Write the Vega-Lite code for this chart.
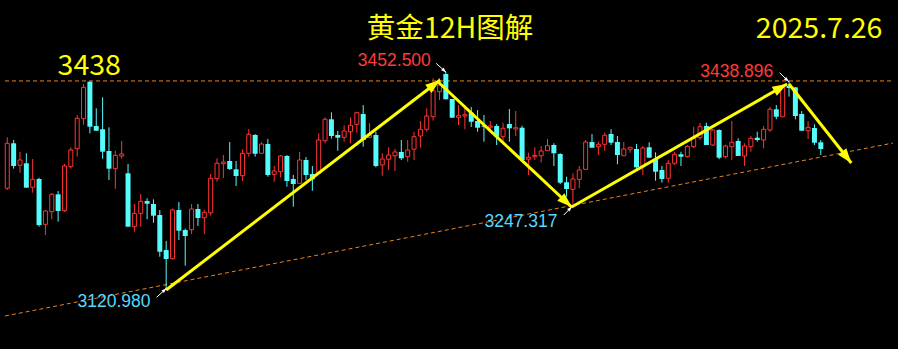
{
  "$schema": "https://vega.github.io/schema/vega-lite/v6.json",
  "width": 898,
  "height": 349,
  "padding": 0,
  "autosize": {"type": "none"},
  "background": "#000000",
  "config": {"view": {"stroke": null}},
  "datasets": {
    "candles": [
      {"k":1,"open":3275.7,"high":3353.2,"low":3273.1,"close":3344.1},
      {"k":2,"open":3344.1,"high":3349.1,"low":3305.5,"close":3309.6},
      {"k":3,"open":3310.6,"high":3330.9,"low":3299.4,"close":3318.7},
      {"k":4,"open":3313.7,"high":3328.9,"low":3276.6,"close":3276.6},
      {"k":5,"open":3277.2,"high":3320.2,"low":3269.0,"close":3289.3},
      {"k":6,"open":3289.8,"high":3291.8,"low":3217.3,"close":3219.8},
      {"k":7,"open":3220.9,"high":3242.7,"low":3204.6,"close":3241.1},
      {"k":8,"open":3240.1,"high":3268.1,"low":3229.0,"close":3266.5},
      {"k":9,"open":3266.5,"high":3271.5,"low":3224.9,"close":3241.1},
      {"k":10,"open":3241.6,"high":3312.6,"low":3239.6,"close":3309.6},
      {"k":11,"open":3308.5,"high":3338.0,"low":3305.5,"close":3333.9},
      {"k":12,"open":3335.9,"high":3387.1,"low":3323.7,"close":3382.1},
      {"k":13,"open":3381.5,"high":3434.3,"low":3372.4,"close":3429.2},
      {"k":14,"open":3437.8,"high":3438.0,"low":3359.3,"close":3369.3},
      {"k":15,"open":3370.4,"high":3397.3,"low":3363.2,"close":3363.2},
      {"k":16,"open":3365.4,"high":3414.0,"low":3320.7,"close":3331.3},
      {"k":17,"open":3332.4,"high":3368.4,"low":3288.3,"close":3305.5},
      {"k":18,"open":3305.5,"high":3332.8,"low":3275.0,"close":3325.8},
      {"k":19,"open":3324.8,"high":3347.6,"low":3320.7,"close":3327.8},
      {"k":20,"open":3298.5,"high":3312.6,"low":3217.3,"close":3217.3},
      {"k":21,"open":3217.3,"high":3251.8,"low":3209.7,"close":3237.6},
      {"k":22,"open":3237.6,"high":3267.0,"low":3217.3,"close":3255.9},
      {"k":23,"open":3256.3,"high":3260.5,"low":3228.5,"close":3252.2},
      {"k":24,"open":3251.8,"high":3258.9,"low":3223.3,"close":3234.0},
      {"k":25,"open":3235.1,"high":3242.7,"low":3171.6,"close":3179.2},
      {"k":26,"open":3181.8,"high":3195.5,"low":3120.98,"close":3168.1},
      {"k":27,"open":3168.6,"high":3244.9,"low":3167.4,"close":3242.7},
      {"k":28,"open":3242.7,"high":3254.8,"low":3197.0,"close":3211.2},
      {"k":29,"open":3212.2,"high":3214.2,"low":3158.0,"close":3203.1},
      {"k":30,"open":3212.7,"high":3251.8,"low":3206.2,"close":3244.2},
      {"k":31,"open":3244.2,"high":3251.8,"low":3218.3,"close":3230.5},
      {"k":32,"open":3230.9,"high":3242.7,"low":3206.2,"close":3239.2},
      {"k":33,"open":3238.5,"high":3297.4,"low":3234.0,"close":3290.9},
      {"k":34,"open":3290.3,"high":3321.3,"low":3285.7,"close":3313.7},
      {"k":35,"open":3313.1,"high":3326.3,"low":3291.3,"close":3315.6},
      {"k":36,"open":3317.2,"high":3346.1,"low":3303.5,"close":3305.0},
      {"k":37,"open":3304.5,"high":3317.2,"low":3279.2,"close":3294.4},
      {"k":38,"open":3294.8,"high":3335.0,"low":3286.8,"close":3328.9},
      {"k":39,"open":3328.9,"high":3365.8,"low":3323.7,"close":3357.8},
      {"k":40,"open":3356.7,"high":3358.0,"low":3323.7,"close":3328.3},
      {"k":41,"open":3328.9,"high":3345.6,"low":3328.9,"close":3343.0},
      {"k":42,"open":3343.0,"high":3350.6,"low":3293.3,"close":3295.9},
      {"k":43,"open":3296.9,"high":3309.6,"low":3285.7,"close":3302.0},
      {"k":44,"open":3300.9,"high":3326.3,"low":3292.4,"close":3324.8},
      {"k":45,"open":3324.8,"high":3326.3,"low":3278.1,"close":3286.8},
      {"k":46,"open":3289.8,"high":3295.9,"low":3247.7,"close":3282.2},
      {"k":47,"open":3283.3,"high":3330.9,"low":3283.3,"close":3318.7},
      {"k":48,"open":3318.7,"high":3323.3,"low":3288.3,"close":3295.9},
      {"k":49,"open":3297.4,"high":3309.6,"low":3272.0,"close":3289.3},
      {"k":50,"open":3298.5,"high":3359.3,"low":3297.4,"close":3349.1},
      {"k":51,"open":3348.0,"high":3383.6,"low":3344.1,"close":3380.6},
      {"k":52,"open":3380.6,"high":3391.2,"low":3351.1,"close":3355.2},
      {"k":53,"open":3356.7,"high":3362.8,"low":3332.8,"close":3352.6},
      {"k":54,"open":3353.2,"high":3371.5,"low":3346.5,"close":3362.8},
      {"k":55,"open":3361.7,"high":3383.6,"low":3344.1,"close":3371.5},
      {"k":56,"open":3373.0,"high":3392.1,"low":3360.2,"close":3390.6},
      {"k":57,"open":3388.6,"high":3402.3,"low":3338.9,"close":3349.1},
      {"k":58,"open":3353.2,"high":3374.5,"low":3352.1,"close":3356.7},
      {"k":59,"open":3356.7,"high":3361.7,"low":3307.6,"close":3309.6},
      {"k":60,"open":3311.1,"high":3328.9,"low":3294.8,"close":3320.2},
      {"k":61,"open":3319.8,"high":3338.0,"low":3303.5,"close":3326.3},
      {"k":62,"open":3325.2,"high":3335.9,"low":3302.0,"close":3330.9},
      {"k":63,"open":3330.9,"high":3349.1,"low":3318.7,"close":3321.3},
      {"k":64,"open":3323.7,"high":3349.1,"low":3316.1,"close":3333.9},
      {"k":65,"open":3335.0,"high":3361.7,"low":3318.7,"close":3354.1},
      {"k":66,"open":3355.2,"high":3378.0,"low":3337.4,"close":3365.4},
      {"k":67,"open":3365.4,"high":3397.3,"low":3361.7,"close":3385.6},
      {"k":68,"open":3384.5,"high":3442.9,"low":3378.5,"close":3424.1},
      {"k":69,"open":3422.6,"high":3443.4,"low":3409.9,"close":3432.7},
      {"k":70,"open":3449.5,"high":3452.5,"low":3411.0,"close":3411.0},
      {"k":71,"open":3411.5,"high":3411.5,"low":3383.0,"close":3383.0},
      {"k":72,"open":3383.6,"high":3402.3,"low":3371.9,"close":3386.1},
      {"k":73,"open":3385.6,"high":3402.3,"low":3365.4,"close":3387.6},
      {"k":74,"open":3390.6,"high":3399.3,"low":3368.9,"close":3376.9},
      {"k":75,"open":3378.0,"high":3394.7,"low":3361.7,"close":3367.8},
      {"k":76,"open":3370.9,"high":3387.1,"low":3346.5,"close":3369.3},
      {"k":77,"open":3368.4,"high":3378.0,"low":3360.2,"close":3370.4},
      {"k":78,"open":3370.4,"high":3373.4,"low":3341.5,"close":3354.1},
      {"k":79,"open":3354.1,"high":3375.4,"low":3343.0,"close":3366.9},
      {"k":80,"open":3373.4,"high":3396.2,"low":3346.5,"close":3366.9},
      {"k":81,"open":3365.8,"high":3393.2,"low":3355.2,"close":3367.8},
      {"k":82,"open":3367.8,"high":3370.9,"low":3316.1,"close":3318.7},
      {"k":83,"open":3319.8,"high":3329.8,"low":3295.9,"close":3322.8},
      {"k":84,"open":3323.7,"high":3338.0,"low":3318.7,"close":3325.8},
      {"k":85,"open":3325.2,"high":3340.0,"low":3315.2,"close":3332.4},
      {"k":86,"open":3332.8,"high":3350.6,"low":3332.8,"close":3340.4},
      {"k":87,"open":3341.5,"high":3344.1,"low":3309.6,"close":3328.9},
      {"k":88,"open":3327.8,"high":3328.9,"low":3282.2,"close":3284.2},
      {"k":89,"open":3284.8,"high":3293.3,"low":3262.9,"close":3274.6},
      {"k":90,"open":3274.1,"high":3298.5,"low":3247.317,"close":3289.8},
      {"k":91,"open":3289.3,"high":3309.6,"low":3275.7,"close":3303.5},
      {"k":92,"open":3304.5,"high":3349.1,"low":3303.5,"close":3346.1},
      {"k":93,"open":3346.1,"high":3358.2,"low":3337.4,"close":3337.4},
      {"k":94,"open":3338.9,"high":3346.5,"low":3326.3,"close":3342.6},
      {"k":95,"open":3342.6,"high":3360.2,"low":3332.8,"close":3356.3},
      {"k":96,"open":3358.2,"high":3365.4,"low":3341.5,"close":3345.0},
      {"k":97,"open":3346.1,"high":3355.2,"low":3312.2,"close":3326.3},
      {"k":98,"open":3325.2,"high":3346.1,"low":3325.2,"close":3335.4},
      {"k":99,"open":3335.0,"high":3338.0,"low":3329.8,"close":3338.0},
      {"k":100,"open":3335.4,"high":3343.0,"low":3303.5,"close":3307.6},
      {"k":101,"open":3308.5,"high":3340.0,"low":3295.9,"close":3336.9},
      {"k":102,"open":3338.0,"high":3345.6,"low":3322.2,"close":3322.2},
      {"k":103,"open":3320.2,"high":3330.4,"low":3287.2,"close":3300.9},
      {"k":104,"open":3303.5,"high":3309.6,"low":3284.2,"close":3289.8},
      {"k":105,"open":3290.9,"high":3318.7,"low":3284.2,"close":3313.7},
      {"k":106,"open":3313.7,"high":3331.3,"low":3311.1,"close":3327.4},
      {"k":107,"open":3327.4,"high":3331.3,"low":3309.6,"close":3323.7},
      {"k":108,"open":3323.7,"high":3341.5,"low":3322.2,"close":3339.5},
      {"k":109,"open":3338.9,"high":3369.3,"low":3336.9,"close":3351.7},
      {"k":110,"open":3352.6,"high":3375.4,"low":3349.1,"close":3369.3},
      {"k":111,"open":3370.4,"high":3375.4,"low":3341.5,"close":3341.5},
      {"k":112,"open":3341.5,"high":3365.8,"low":3340.0,"close":3364.3},
      {"k":113,"open":3364.3,"high":3365.4,"low":3319.8,"close":3322.2},
      {"k":114,"open":3323.7,"high":3342.0,"low":3321.0,"close":3340.0},
      {"k":115,"open":3338.9,"high":3378.0,"low":3318.7,"close":3345.6},
      {"k":116,"open":3347.6,"high":3351.7,"low":3324.8,"close":3324.8},
      {"k":117,"open":3324.8,"high":3344.1,"low":3309.6,"close":3340.0},
      {"k":118,"open":3338.9,"high":3355.2,"low":3331.3,"close":3351.7},
      {"k":119,"open":3352.6,"high":3361.7,"low":3346.5,"close":3349.1},
      {"k":120,"open":3349.1,"high":3370.4,"low":3336.5,"close":3365.4},
      {"k":121,"open":3364.3,"high":3399.7,"low":3361.7,"close":3395.8},
      {"k":122,"open":3395.8,"high":3402.3,"low":3380.6,"close":3384.5},
      {"k":123,"open":3384.5,"high":3434.3,"low":3384.5,"close":3431.2},
      {"k":124,"open":3431.2,"high":3438.896,"low":3415.0,"close":3428.2},
      {"k":125,"open":3429.2,"high":3429.2,"low":3380.6,"close":3385.6},
      {"k":126,"open":3388.6,"high":3393.2,"low":3363.2,"close":3363.2},
      {"k":127,"open":3363.2,"high":3378.0,"low":3350.6,"close":3368.4},
      {"k":128,"open":3367.4,"high":3373.0,"low":3341.5,"close":3345.0},
      {"k":129,"open":3345.6,"high":3349.1,"low":3326.3,"close":3335.4}
    ],
    "guides": [
      {"g":"resistance","k":0.642,"p":3438.9},
      {"g":"resistance","k":140.36,"p":3438.9},
      {"g":"trend","k":0.642,"p":3081.5},
      {"g":"trend","k":140.36,"p":3344.5}
    ],
    "arrows": [
      {"a":"A1","pt":"tail","k":26.0,"p":3121.0},
      {"a":"A1","pt":"tip","k":69.1,"p":3440.3},
      {"a":"A2","pt":"tail","k":68.64,"p":3438.8},
      {"a":"A2","pt":"tip","k":89.8,"p":3247.2},
      {"a":"A3","pt":"tail","k":89.8,"p":3247.2},
      {"a":"A3","pt":"tip","k":123.7,"p":3434.3},
      {"a":"A4","pt":"tail","k":124.0,"p":3434.3},
      {"a":"A4","pt":"tip","k":133.8,"p":3314.1}
    ],
    "pointers": [
      {"a":"P1","pt":"tail","k":68.48,"p":3465.7},
      {"a":"P1","pt":"tip","k":70.04,"p":3452.0},
      {"a":"P2","pt":"tail","k":122.52,"p":3451.4},
      {"a":"P2","pt":"tip","k":123.98,"p":3437.8},
      {"a":"P3","pt":"tail","k":88.55,"p":3235.0},
      {"a":"P3","pt":"tip","k":89.84,"p":3247.7},
      {"a":"P4","pt":"tail","k":24.49,"p":3109.9},
      {"a":"P4","pt":"tip","k":26.05,"p":3123.6}
    ],
    "labels": [
      {"t":"黄金12H图解","k":70.66,"p":3503.8,"kind":"big"},
      {"t":"2025.7.26","k":128.74,"p":3503.8,"kind":"big"},
      {"t":"3438","k":13.9,"p":3447.9,"kind":"big"},
      {"t":"3452.500","k":61.9,"p":3462.1,"kind":"high"},
      {"t":"3438.896","k":115.78,"p":3445.4,"kind":"high"},
      {"t":"3247.317","k":81.82,"p":3217.3,"kind":"low"},
      {"t":"3120.980","k":17.8,"p":3095.6,"kind":"low"}
    ]
  },
  "encoding": {
    "x": {"field": "k", "type": "quantitative", "axis": null,
          "scale": {"domain": [0.642, 140.36], "nice": false, "zero": false}}
  },
  "layer": [
    {
      "data": {"name": "guides"},
      "mark": {"type": "line", "stroke": "#e8821e", "strokeWidth": 1, "strokeDash": [4, 3]},
      "encoding": {
        "y": {"field": "p", "type": "quantitative", "axis": null,
              "scale": {"domain": [3031.3, 3562.0], "nice": false, "zero": false}},
        "detail": {"field": "g"}
      }
    },
    {
      "data": {"name": "candles"},
      "mark": {"type": "rule", "strokeWidth": 1},
      "encoding": {
        "y": {"field": "low", "type": "quantitative", "axis": null,
              "scale": {"domain": [3031.3, 3562.0], "nice": false, "zero": false}},
        "y2": {"field": "high"},
        "color": {"condition": {"test": "datum.close >= datum.open", "value": "#ff3434"}, "value": "#54fcfc"}
      }
    },
    {
      "data": {"name": "candles"},
      "transform": [{"filter": "datum.close >= datum.open"}],
      "mark": {"type": "bar", "size": 4, "fill": "#000000", "stroke": "#ff3434", "strokeWidth": 1},
      "encoding": {
        "y": {"field": "open", "type": "quantitative", "axis": null,
              "scale": {"domain": [3031.3, 3562.0], "nice": false, "zero": false}},
        "y2": {"field": "close"}
      }
    },
    {
      "data": {"name": "candles"},
      "transform": [{"filter": "datum.close < datum.open"}],
      "mark": {"type": "bar", "size": 5, "color": "#54fcfc"},
      "encoding": {
        "y": {"field": "open", "type": "quantitative", "axis": null,
              "scale": {"domain": [3031.3, 3562.0], "nice": false, "zero": false}},
        "y2": {"field": "close"}
      }
    },
    {
      "data": {"name": "arrows"},
      "encoding": {
        "y": {"field": "p", "type": "quantitative", "axis": null,
              "scale": {"domain": [3031.3, 3562.0], "nice": false, "zero": false}}
      },
      "layer": [
        {"mark": {"type": "line", "stroke": "#ffff00", "strokeWidth": 3}, "encoding": {"detail": {"field": "a"}}},
        {"transform": [{"filter": "datum.pt == 'tip' && datum.a == 'A1'"}],
         "mark": {"type": "point", "shape": "M0,0L0.6,1.7L-0.6,1.7Z", "filled": true, "opacity": 1, "size": 300, "color": "#ffff00", "angle": 52.8}},
        {"transform": [{"filter": "datum.pt == 'tip' && datum.a == 'A2'"}],
         "mark": {"type": "point", "shape": "M0,0L0.6,1.7L-0.6,1.7Z", "filled": true, "opacity": 1, "size": 300, "color": "#ffff00", "angle": 132.8}},
        {"transform": [{"filter": "datum.pt == 'tip' && datum.a == 'A3'"}],
         "mark": {"type": "point", "shape": "M0,0L0.6,1.7L-0.6,1.7Z", "filled": true, "opacity": 1, "size": 300, "color": "#ffff00", "angle": 60.6}},
        {"transform": [{"filter": "datum.pt == 'tip' && datum.a == 'A4'"}],
         "mark": {"type": "point", "shape": "M0,0L0.6,1.7L-0.6,1.7Z", "filled": true, "opacity": 1, "size": 300, "color": "#ffff00", "angle": 141.9}}
      ]
    },
    {
      "data": {"name": "pointers"},
      "encoding": {
        "y": {"field": "p", "type": "quantitative", "axis": null,
              "scale": {"domain": [3031.3, 3562.0], "nice": false, "zero": false}}
      },
      "layer": [
        {"mark": {"type": "line", "stroke": "#ffffff", "strokeWidth": 1}, "encoding": {"detail": {"field": "a"}}},
        {"transform": [{"filter": "datum.pt == 'tip' && datum.a == 'P1'"}],
         "mark": {"type": "point", "shape": "M0,0L0.6,1.7L-0.6,1.7Z", "filled": true, "opacity": 1, "size": 36, "color": "#ffffff", "angle": 132}},
        {"transform": [{"filter": "datum.pt == 'tip' && datum.a == 'P2'"}],
         "mark": {"type": "point", "shape": "M0,0L0.6,1.7L-0.6,1.7Z", "filled": true, "opacity": 1, "size": 36, "color": "#ffffff", "angle": 132}},
        {"transform": [{"filter": "datum.pt == 'tip' && datum.a == 'P3'"}],
         "mark": {"type": "point", "shape": "M0,0L0.6,1.7L-0.6,1.7Z", "filled": true, "opacity": 1, "size": 36, "color": "#ffffff", "angle": 45}},
        {"transform": [{"filter": "datum.pt == 'tip' && datum.a == 'P4'"}],
         "mark": {"type": "point", "shape": "M0,0L0.6,1.7L-0.6,1.7Z", "filled": true, "opacity": 1, "size": 36, "color": "#ffffff", "angle": 48}}
      ]
    },
    {
      "data": {"name": "labels"},
      "encoding": {
        "y": {"field": "p", "type": "quantitative", "axis": null,
              "scale": {"domain": [3031.3, 3562.0], "nice": false, "zero": false}},
        "text": {"field": "t"}
      },
      "layer": [
        {"transform": [{"filter": "datum.kind == 'big'"}],
         "mark": {"type": "text", "align": "center", "baseline": "alphabetic", "font": "Noto Sans CJK SC", "fontSize": 28.5, "color": "#ffff00"}},
        {"transform": [{"filter": "datum.kind == 'high'"}],
         "mark": {"type": "text", "align": "center", "baseline": "alphabetic", "font": "Liberation Sans", "fontSize": 17.5, "color": "#ff3b3b"}},
        {"transform": [{"filter": "datum.kind == 'low'"}],
         "mark": {"type": "text", "align": "center", "baseline": "alphabetic", "font": "Liberation Sans", "fontSize": 17.5, "color": "#55d8ff"}}
      ]
    }
  ]
}
